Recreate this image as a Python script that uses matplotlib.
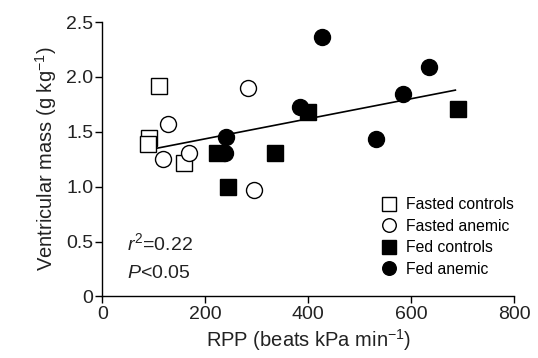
import numpy as np
import matplotlib
matplotlib.use("Agg")
import matplotlib.pyplot as plt

plt.rcParams["font.family"] = ["Liberation Sans", "DejaVu Sans"]
plt.rcParams["mathtext.fontset"] = "custom"
plt.rcParams["mathtext.rm"] = "Liberation Sans"
plt.rcParams["mathtext.it"] = "Liberation Sans:italic"

# Data: RPP (x) vs ventricular mass (y)
fasted_controls_x = [110, 90, 88, 158]
fasted_controls_y = [1.92, 1.44, 1.39, 1.22]

fasted_anemic_x = [128, 118, 168, 282, 294]
fasted_anemic_y = [1.57, 1.25, 1.31, 1.90, 0.97]

fed_controls_x = [223, 335, 244, 400, 691]
fed_controls_y = [1.31, 1.31, 1.00, 1.68, 1.71]

fed_anemic_x = [241, 238, 383, 427, 635, 585, 532]
fed_anemic_y = [1.45, 1.31, 1.73, 2.36, 2.09, 1.84, 1.43]

# regression line
fit_slope = 0.000912
fit_intercept = 1.254
fit_range = [105, 686]

fig = plt.figure(figsize=(5.38, 3.58), dpi=100)
ax = fig.add_axes([0.1905, 0.1718, 0.7649, 0.7667])

fx = np.array(fit_range)
ax.plot(fx, fit_intercept + fit_slope * fx, color="black", lw=1.2, zorder=1)

ms = 11.5
ax.plot(fasted_controls_x, fasted_controls_y, "s", ms=ms, mfc="white", mec="black", mew=1,
        ls="none", label="Fasted controls", zorder=2)
ax.plot(fasted_anemic_x, fasted_anemic_y, "o", ms=ms, mfc="white", mec="black", mew=1,
        ls="none", label="Fasted anemic", zorder=2)
ax.plot(fed_controls_x, fed_controls_y, "s", ms=ms, mfc="black", mec="black", mew=1,
        ls="none", label="Fed controls", zorder=3)
ax.plot(fed_anemic_x, fed_anemic_y, "o", ms=ms, mfc="black", mec="black", mew=1,
        ls="none", label="Fed anemic", zorder=3)

ax.set_xlim(0, 800)
ax.set_ylim(0, 2.5)
ax.set_xticks([0, 200, 400, 600, 800])
ax.set_yticks([0, 0.5, 1.0, 1.5, 2.0, 2.5])
ax.set_yticklabels(["0", "0.5", "1.0", "1.5", "2.0", "2.5"])
ax.spines["top"].set_visible(False)
ax.spines["right"].set_visible(False)
for s in ["left", "bottom"]:
    ax.spines[s].set_linewidth(1.0)
ax.tick_params(direction="out", length=5, width=1, labelsize=14, colors="black", pad=1.5)
for t in ax.get_xticklabels() + ax.get_yticklabels():
    t.set_color("#222222")

ax.set_xlabel("RPP (beats kPa min$^{-1}$)", fontsize=14.5, labelpad=3, color="#222222")
ax.set_ylabel("Ventricular mass (g kg$^{-1}$)", fontsize=14.5, labelpad=5, color="#222222")

ax.text(0.059, 0.169, "$r^2$=0.22", transform=ax.transAxes, fontsize=14,
        va="baseline", color="#222222")
ax.text(0.059, 0.066, "$P$<0.05", transform=ax.transAxes, fontsize=14,
        va="baseline", color="#222222")

ax.legend(loc="upper left", bbox_to_anchor=(382 / 538, 1 - 197 / 358),
          bbox_transform=fig.transFigure, frameon=False, fontsize=11.3,
          markerscale=0.85, handlelength=0.9, handletextpad=0.6, labelspacing=0.42,
          borderpad=0.0, borderaxespad=0.0)

fig.savefig("out.png", dpi=100)
